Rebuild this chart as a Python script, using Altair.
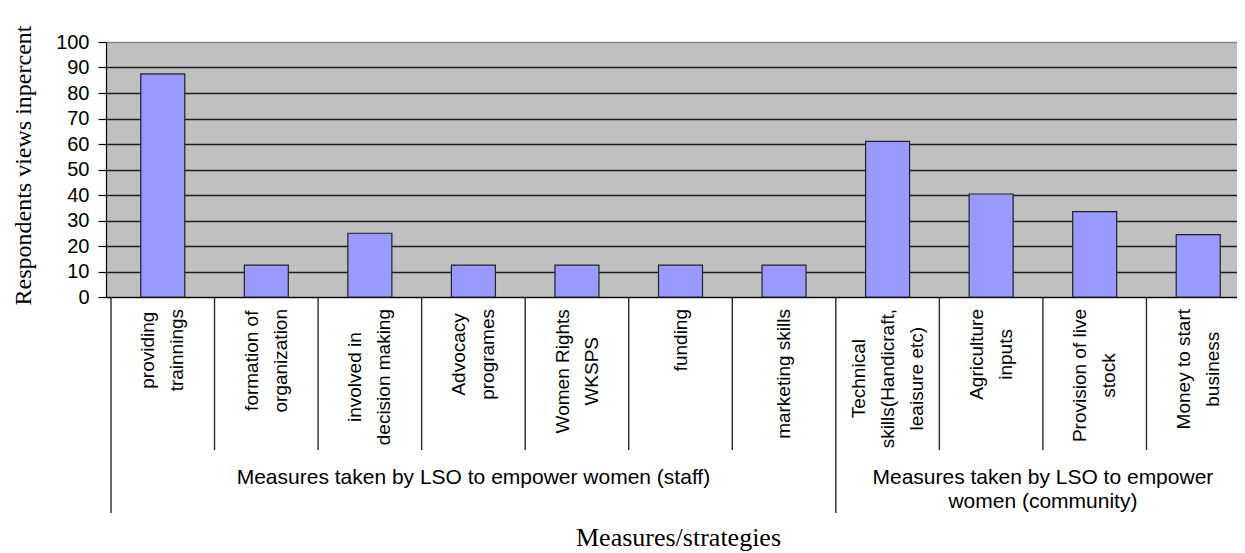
import altair as alt
import pandas as pd

# ---- data ----
categories = [
    "providing\ntrainnings",
    "formation of\norganization",
    "involved in\ndecision making",
    "Advocacy\nprogrames",
    "Women Rights\nWKSPS",
    "funding",
    "marketing skills",
    "Technical\nskills(Handicraft,\nleaisure etc)",
    "Agriculture\ninputs",
    "Provision of live\nstock",
    "Money to start\nbusiness",
]
values = [87.5, 12.5, 25, 12.5, 12.5, 12.5, 12.5, 61, 40.4, 33.5, 24.5]
groups = ["staff"] * 7 + ["community"] * 4
group_names = ["staff", "community"]
group_titles = [
    "Measures taken by LSO to empower  women (staff)",
    "Measures taken by LSO to empower\nwomen (community)",
]
y_ticks = list(range(0, 101, 10))
y_title = "Respondents views inpercent"
x_title = "Measures/strategies"

# ---- layout ----
W, H = 1131, 255          # visible plot area (the reference crops the last column)
FULL_W = 1149             # full width of the 11 category columns
LABEL_SIZE = 19
LINE_H = 29
SANS = "Arial, Liberation Sans"
SERIF = "Times New Roman, Liberation Serif"

# approximate Arial advance widths (em) to top-align rotated label blocks
AW = {'i': .222, 'l': .222, 'j': .222, 't': .278, 'f': .278, 'r': .333, ' ': .278,
      '(': .333, ')': .333, ',': .278, 'm': .833, 'w': .722, 'k': .5, 's': .5,
      'c': .5, 'v': .5, 'y': .5, 'z': .5, 'x': .5, 'W': .944, 'M': .833, 'T': .611,
      'R': .722, 'H': .722, 'K': .667, 'S': .667, 'P': .667, 'A': .667, 'L': .556,
      'O': .778, 'F': .611}


def text_w(s, size):
    return sum(AW.get(ch, .556) for ch in s) * size


n = len(categories)
col_px = FULL_W / n
df = pd.DataFrame({"cat": categories, "value": values, "group": groups})
df["idx"] = range(n)
df["pos"] = df["idx"] + 0.5
df["left"] = df["idx"].astype(float)
df["start"] = df["group"] != df["group"].shift()
nlines = [len(c.split("\n")) for c in categories]
# center the block of rotated lines on the column
df["lpos"] = [p - (k - 1) * LINE_H / 2 / col_px for p, k in zip(df["pos"], nlines)]
df["ly"] = [H + 12 + max(text_w(l, LABEL_SIZE) for l in c.split("\n")) / 2 for c in categories]

gdf = pd.DataFrame({"group": group_names, "title": group_titles})
gdf["gx"] = [(df[df.group == g].idx.min() + df[df.group == g].idx.max() + 1) / 2 for g in group_names]

xs = alt.Scale(domain=[0, n], range=[0, FULL_W], nice=False, zero=False)

x_axis = alt.Axis(labels=False, ticks=False, grid=False, domain=True, domainColor="black",
                  domainWidth=1.2, title=x_title, titleFont=SERIF, titleFontSize=26,
                  titleFontWeight="normal", titleColor="black", titleX=572, titleY=248,
                  titleBaseline="alphabetic", titleAlign="center", titleAnchor="start")

y_axis = alt.Axis(values=y_ticks, grid=True,
                  gridColor={"condition": {"test": "datum.value == 100", "value": "#8a8a8a"},
                             "value": "#1e1e1e"},
                  gridWidth=1.4, domainColor="black", domainWidth=1.2, tickColor="black",
                  tickSize=8, tickWidth=1.2, labelFont=SANS, labelFontSize=20, labelColor="black",
                  labelPadding=9, title=y_title, titleFont=SERIF, titleFontSize=24,
                  titleFontWeight="normal", titleColor="black", titleX=-76, titleY=123,
                  titleAngle=270, titleBaseline="alphabetic", titleAlign="center",
                  titleAnchor="start")

base = alt.Chart(df)

bars = base.mark_bar(size=44, color="#9999FF", stroke="#222222", strokeWidth=1.2).encode(
    x=alt.X("pos:Q", scale=xs, axis=x_axis),
    y=alt.Y("value:Q", scale=alt.Scale(domain=[0, 100], nice=False), axis=y_axis),
)

inner_seps = base.transform_filter("!datum.start").mark_rule(color="#2a2a2a", strokeWidth=1.4).encode(
    x=alt.X("left:Q", scale=xs),
    y=alt.value(H),
    y2=alt.value(H + 153),
)

group_seps = base.transform_filter("datum.start").mark_rule(color="#2a2a2a", strokeWidth=1.4).encode(
    x=alt.X("left:Q", scale=xs),
    y=alt.value(H),
    y2=alt.value(H + 216),
)

cat_labels = base.mark_text(angle=270, align="center", baseline="middle", lineBreak="\n",
                            font=SANS, fontSize=LABEL_SIZE, lineHeight=LINE_H, color="black").encode(
    x=alt.X("lpos:Q", scale=xs),
    y=alt.Y("ly:Q", scale=None, axis=None),
    text="cat:N",
)

group_labels = alt.Chart(gdf).mark_text(align="center", baseline="top", lineBreak="\n",
                                        font=SANS, fontSize=21, lineHeight=24, color="black").encode(
    x=alt.X("gx:Q", scale=xs),
    y=alt.value(425),
    text="title:N",
)

chart = alt.layer(bars, inner_seps, group_seps, cat_labels, group_labels).resolve_scale(
    y="independent"
).properties(
    width=W, height=H,
    autosize=alt.AutoSizeParams(type="none"),
    padding={"left": 98, "top": 34, "right": 0, "bottom": 256},
    background="white",
).configure_view(fill="#C0C0C0", stroke=None)

chart.save("out.html", embed_options={"renderer": "svg", "actions": False})
